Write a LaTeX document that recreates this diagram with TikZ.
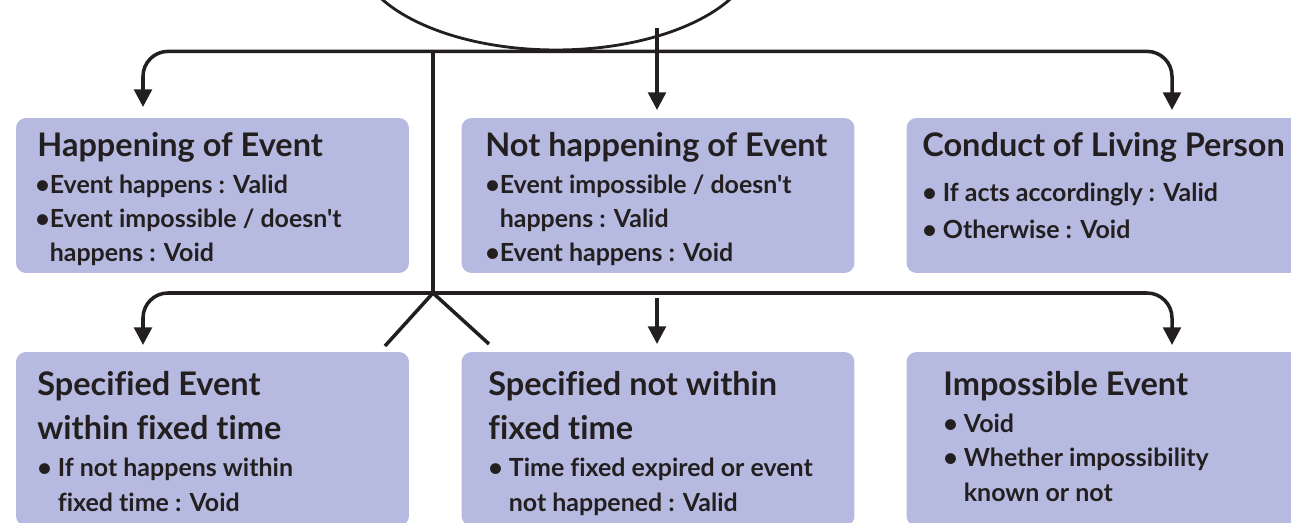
\documentclass[tikz,border=0pt]{standalone}
\usepackage{fontspec}
\newfontfamily\latofont{Lato}[Ligatures=NoCommon]
\usetikzlibrary{arrows.meta,shapes.geometric}

\definecolor{boxfill}{HTML}{B7BAE0}
\definecolor{ink}{HTML}{231F20}

% multi-line texts are placed by the baseline of their last line
\tikzset{
  panel/.style={fill=boxfill,rounded corners=0.2cm,minimum width=7.86cm,inner sep=0pt},
  head/.style={anchor=base west,inner sep=0pt,align=left,text=ink,
    font=\latofont\bfseries\fontsize{18.5}{24.9}\selectfont},
  list/.style={anchor=base west,inner sep=0pt,align=left,text=ink,
    font=\latofont\bfseries\fontsize{14.2}{19.6}\selectfont},
  wire/.style={draw=ink,line width=2pt},
  arrowed/.style={-{Triangle[width=10pt,length=10pt]}}
}

\begin{document}
\begin{tikzpicture}[x=0.02cm,y=-0.02cm]
  \useasboundingbox (0,0) rectangle (1291,523);
  \clip (0,0) rectangle (1291,523);

  \node[draw=ink,line width=1.6pt,ellipse,minimum width=8.0cm,minimum height=4cm] (root) at (556,-50) {};

  % the six boxes
  \begin{scope}[every node/.style={panel,minimum height=3.1cm}]
    \node (hap)     at (212.5,195.5) {};
    \node (nothap)  at (658,195.5)   {};
    \node (conduct) at (1103,195.5)  {};
  \end{scope}
  \begin{scope}[every node/.style={panel,minimum height=3.48cm}]
    \node (within)    at (212.5,439) {};
    \node (notwithin) at (658,439)   {};
    \node (imposs)    at (1103,439)  {};
  \end{scope}

  \coordinate (hapin)       at (143,107);
  \coordinate (nothapin)    at (657,110);
  \coordinate (conductin)   at (1172,110);
  \coordinate (rootout)     at (657,28);
  \coordinate (fork)        at (433,293);
  \coordinate (legL)        at (385,346);
  \coordinate (legR)        at (489,344);
  \coordinate (withinin)    at (143,345);
  \coordinate (notwithinin) at (657,344);
  \coordinate (notwithinout) at (657,298);
  \coordinate (impossin)    at (1172,345);

  \begin{scope}[every path/.style={wire}]
    \draw[arrowed,rounded corners=0.5cm] (root.south) -| (hapin);
    \draw[arrowed,rounded corners=0.5cm] (root.south) -| (conductin);
    \draw[arrowed] (rootout) -- (nothapin);
    \draw (root.south -| fork) -- (fork);
    \draw[arrowed,rounded corners=0.5cm] (fork) -| (withinin);
    \draw[arrowed,rounded corners=0.5cm] (fork) -| (impossin);
    \draw[arrowed] (notwithinout) -- (notwithinin);
    \draw (legL) -- (fork) -- (legR);
  \end{scope}

  % texts
  \node[head] (hapT) at (37,157) {Happening of Event};
  \node[list] (hapL) at (35,262) {•Event happens : Valid\\•Event impossible / doesn't\\\phantom{•}happens : Void};

  \node[head] (nothapT) at (485,157) {Not happening of Event};
  \node[list] (nothapL) at (485,262) {•Event impossible / doesn't\\\phantom{•}happens : Valid\\•Event happens : Void};

  \node[head] (conductT) at (922,157) {Conduct of Living Person};
  \node[list] (conductL) at (922,239) {• If acts accordingly : Valid\\[1.9pt]• Otherwise : Void};

  \node[head] (withinT) at (37,439) {Specified Event\\within fixed time};
  \node[list] (withinL) at (37,511) {• If not happens within\\\phantom{• }fixed time : Void};

  \node[head] (notwithinT) at (488,439) {Specified not within\\fixed time};
  \node[list] (notwithinL) at (488,511) {• Time fixed expired or event\\\phantom{• }not happened : Valid};

  \node[head] (impossT) at (943,396) {Impossible Event};
  \node[list] (impossL) at (943,501) {• Void\\• Whether impossibility\\\phantom{• }known or not};
\end{tikzpicture}
\end{document}
